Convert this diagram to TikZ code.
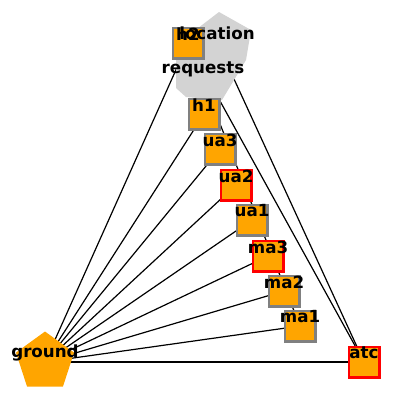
\documentclass[tikz,border=0pt]{standalone}
\usepackage{fontspec}
\newfontfamily\lblfont{DejaVu Sans}
\usetikzlibrary{shapes.geometric,backgrounds}

\definecolor{nodeorange}{RGB}{255,165,0}
\definecolor{locgrey}{RGB}{211,211,211}

\pgfdeclarelayer{foreground}
\pgfsetlayers{background,main,foreground}

\tikzset{
  sq/.style={rectangle, fill=nodeorange, draw=gray, line width=2.5pt,
             minimum size=30.5pt, inner sep=0pt},
  sqred/.style={sq, draw=red},
  pent/.style={regular polygon, regular polygon sides=5, fill=nodeorange,
               minimum size=61pt, inner sep=0pt},
  lbl/.style={font={\lblfont\bfseries\fontsize{16.7}{19}\selectfont},
              yshift=9pt, inner sep=0pt},
  edge/.style={draw=black, line width=1.2pt}
}

\begin{document}
\begin{tikzpicture}[x=1pt,y=-1pt]
\useasboundingbox (0,0) rectangle (407,405);

% grey location/requests area
\fill[locgrey] (219,12) -- (251,30) -- (246,60) -- (222,100) -- (186,97)
   -- (176,88) -- (176,45) -- cycle;
\coordinate (location) at (217,42);
\coordinate (requests) at (203,78);

% nodes
\node[sq] (h2) at (188,43) {};
\node[sq] (h1) at (204,114) {};
\node[sq] (ua3) at (220,149) {};
\node[sqred] (ua2) at (236,185) {};
\node[sq] (ua1) at (252,220) {};
\node[sqred] (ma3) at (268,256) {};
\node[sq] (ma2) at (284,291) {};
\node[sq] (ma1) at (300,326) {};
\node[sqred] (atc) at (364,362) {};
\node[pent] (ground) at (45,362) {};

% edges
\begin{scope}[on background layer]
  \foreach \n in {h2,h1,ua3,ua2,ua1,ma3,ma2,ma1,atc}
    \draw[edge] (ground.center) -- (\n.center);
  \draw[edge] (atc.center) -- (h2.center);
  \draw[edge] (atc.center) -- (location);
  \draw[edge] (h2.center) -- (ma1.center);
\end{scope}

% labels
\begin{pgfonlayer}{foreground}
  \foreach \n in {h2,h1,ua3,ua2,ua1,ma3,ma2,ma1,atc,ground,location,requests}
    \node[lbl] (\n-lbl) at (\n) {\n};
\end{pgfonlayer}
\end{tikzpicture}
\end{document}
